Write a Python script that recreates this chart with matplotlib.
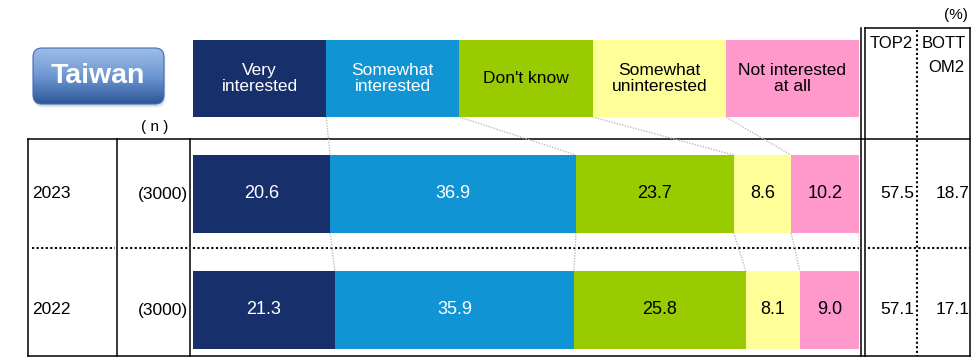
import numpy as np
import matplotlib.pyplot as plt
from matplotlib.patches import FancyBboxPatch

plt.rcParams['font.family'] = ['Liberation Sans', 'DejaVu Sans']

# ----------------------- Data ---------------------------
categories = ["Very\ninterested", "Somewhat\ninterested", "Don't know",
              "Somewhat\nuninterested", "Not interested\nat all"]
years = ["2023", "2022"]
sample_n = ["(3000)", "(3000)"]
values_2023 = [20.6, 36.9, 23.7, 8.6, 10.2]
values_2022 = [21.3, 35.9, 25.8, 8.1, 9.0]
top2 = [57.5, 57.1]
bottom2 = [18.7, 17.1]

colors = ["#172F6B", "#1094D3", "#99CC00", "#FFFF99", "#FF99CC"]
text_colors = ["white", "white", "black", "black", "black"]

W, H = 979, 358
fig = plt.figure(figsize=(W / 100, H / 100), dpi=100)

# overlay axes in pixel coordinates for table frame and text
ov = fig.add_axes([0, 0, 1, 1])
ov.set_xlim(0, W)
ov.set_ylim(H, 0)
ov.axis("off")

# ----------------------- Taiwan button ---------------------------
btn = FancyBboxPatch((33, 48), 131, 56, boxstyle="round,pad=0,rounding_size=9",
                     facecolor="none", edgecolor="#3F6DAE", linewidth=0.8, zorder=3)
ov.add_patch(btn)
# soft shadow
for k, a in enumerate([0.25, 0.18, 0.1]):
    sh = FancyBboxPatch((33 + k, 50 + k), 131, 56, boxstyle="round,pad=0,rounding_size=9",
                        facecolor="#9AA6B8", edgecolor="none", alpha=a, zorder=1)
    ov.add_patch(sh)
grad = np.linspace(0, 1, 100).reshape(-1, 1)
cmap = plt.matplotlib.colors.LinearSegmentedColormap.from_list(
    "btn", ["#9DBCE8", "#6E98D3", "#2C5696"])
img = ov.imshow(grad, extent=[33, 164, 104, 48], origin="upper", cmap=cmap,
                aspect="auto", zorder=2)
img.set_clip_path(btn)
ov.text(98, 76, "Taiwan", color="white", fontsize=20.5, fontweight="bold",
        ha="center", va="center", zorder=4)
ov.set_xlim(0, W)
ov.set_ylim(H, 0)

ov.text(155, 127, "( n )", fontsize=11, ha="center", va="center")
ov.text(956, 15, "(%)", fontsize=11, ha="center", va="center")

# ----------------------- Table frame ---------------------------
lk = dict(color="black", linewidth=1.1)
ov.plot([28, 28], [139, 356], **lk)
ov.plot([117, 117], [139, 356], **lk)
ov.plot([190, 190], [139, 356], **lk)
ov.plot([28, 970], [139, 139], **lk)
ov.plot([28, 970], [356, 356], **lk)
ov.plot([861, 861], [28, 356], **lk)
ov.plot([865, 865], [28, 356], **lk)
ov.plot([970, 970], [28, 356], **lk)
ov.plot([865, 970], [28, 28], **lk)
dk = dict(color="black", linewidth=1.5, linestyle=(0, (1, 1.2)))
ov.plot([917, 917], [30, 356], **dk)
for x0, x1 in [(32, 115), (121, 188), (193, 859), (868, 970)]:
    ov.plot([x0, x1], [248, 248], **dk)

ov.text(891, 43, "TOP2", fontsize=12, ha="center", va="center")
ov.text(944, 43, "BOTT", fontsize=12, ha="center", va="center")
ov.text(946, 67, "OM2", fontsize=12, ha="center", va="center")

row_y = [194, 310]
for i, y in enumerate(row_y):
    ov.text(32, y, years[i], fontsize=12.5, ha="left", va="center")
    ov.text(188, y, sample_n[i], fontsize=12.5, ha="right", va="center")
    ov.text(914, y - 1, f"{top2[i]:.1f}", fontsize=12.5, ha="right", va="center")
    ov.text(970, y - 1, f"{bottom2[i]:.1f}", fontsize=12.5, ha="right", va="center")

# ----------------------- Bars ---------------------------
ax = fig.add_axes([193 / W, 0, (859 - 193) / W, 1])
ax.set_xlim(0, 100)
ax.set_ylim(H, 0)
ax.axis("off")
ax.patch.set_alpha(0)

# legend header boxes (equal widths)
box_w = 100 / len(categories)
for i, cat in enumerate(categories):
    ax.barh(78.5, box_w, left=i * box_w, height=77, color=colors[i])
    ax.text(i * box_w + box_w / 2, 78.5, cat, color=text_colors[i], fontsize=12.5,
            ha="center", va="center", linespacing=1.1)

bar_h = 78
for y, vals in zip(row_y, [values_2023, values_2022]):
    left = 0
    for i, v in enumerate(vals):
        ax.barh(y, v, left=left, height=bar_h, color=colors[i])
        ax.text(left + v / 2, y, f"{v:.1f}", color=text_colors[i], fontsize=13,
                ha="center", va="center")
        left += v

# connector lines
cum23 = np.cumsum(values_2023)
cum22 = np.cumsum(values_2022)
ck = dict(color="#BDBDBD", linewidth=1.0, linestyle=(0, (1, 1)), zorder=0)
for i in range(len(categories)):
    ax.plot([(i + 1) * box_w, cum23[i]], [117, 155], **ck)
    ax.plot([cum23[i], cum22[i]], [233, 271], **ck)

fig.savefig("out.png", dpi=100)
